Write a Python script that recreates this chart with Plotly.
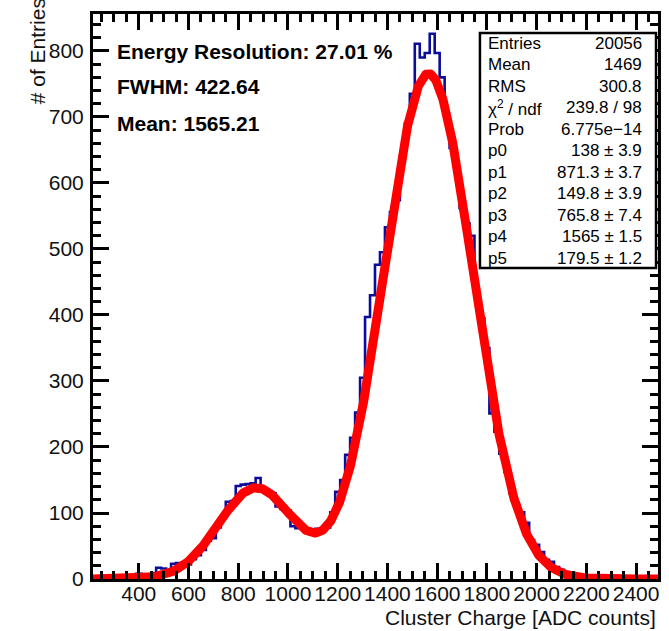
import numpy as np
import plotly.graph_objects as go

# ---- histogram contents: 20-count wide bins starting at 230 ADC counts ----
bin_start = 230
bin_width = 20
counts = [
    2, 1, 3, 2, 3, 4, 3, 4, 8, 5,
    6, 9, 17, 16, 11, 23, 24, 22, 22, 30,
    36, 44, 58, 62, 78, 95, 117, 118, 141, 143,
    144, 145, 153, 133, 131, 130, 110, 106, 104, 80,
    77, 77, 75, 73, 76, 76, 78, 101, 132, 150,
    188, 214, 252, 305, 397, 430, 476, 495, 533, 556,
    574, 640, 690, 735, 811, 790, 797, 826, 797, 760,
    700, 653, 620, 562, 539, 520, 433, 395, 350, 251,
    223, 190, 162, 130, 112, 101, 85, 59, 52, 41,
    29, 26, 18, 14, 10, 7, 5, 4, 3, 2,
    2, 1, 1, 1, 0, 1, 0, 0, 0, 0,
    0, 0,
]

# ---- double-Gaussian fit parameters p0..p5 ----
fit_params = [138.0, 871.3, 149.8, 765.8, 1565.0, 179.5]

# ---- statistics box ----
stat_names = ["Entries", "Mean", "RMS", "χ<sup>2</sup> / ndf", "Prob",
              "p0", "p1", "p2", "p3", "p4", "p5"]
stat_values = ["20056", "1469", "300.8", "239.8 / 98", "6.775e\u221214",
               "138 ± 3.9", "871.3 ± 3.7", "149.8 ± 3.9", "765.8 ± 7.4",
               "1565 ± 1.5", "179.5 ± 1.2"]

# ---- summary text ----
summary_lines = ["Energy Resolution: 27.01 %", "FWHM: 422.64", "Mean: 1565.21"]

# ---- axes ----
x_range = [216, 2488]
y_range = [0, 856]
x_major, x_minor = 200, 50
y_major, y_minor = 100, 20

W, H = 669, 631
L, R, T, B = 93, 8, 14, 52
PW, PH = W - L - R, H - T - B
FONT = "Liberation Sans, Arial, Helvetica, sans-serif"


def px(xp):
    return (xp - L) / PW


def py(yp):
    return (H - B - yp) / PH


edges = bin_start + bin_width * np.arange(len(counts) + 1)
step_y = [float(c) for c in counts] + [float(counts[-1])]

p0, p1, p2, p3, p4, p5 = fit_params
xf = np.linspace(x_range[0], x_range[1], 1200)
yf = p0 * np.exp(-0.5 * ((xf - p1) / p2) ** 2) + p3 * np.exp(-0.5 * ((xf - p4) / p5) ** 2)

fig = go.Figure()
fig.add_trace(go.Scatter(
    x=edges.tolist(), y=step_y, mode="lines", line_shape="hv",
    line=dict(color="#0c0c9a", width=2.6), hoverinfo="skip",
))
fig.add_trace(go.Scatter(
    x=xf.tolist(), y=yf.tolist(), mode="lines",
    line=dict(color="#ff0000", width=9), hoverinfo="skip",
))

# frame with inward major and minor ticks on all four sides
tick_font = dict(family=FONT, size=21, color="#111")
fig.update_xaxes(
    range=x_range, tick0=0, dtick=x_major,
    showgrid=False, zeroline=False,
    showline=True, linewidth=3, linecolor="black", mirror="allticks",
    ticks="inside", ticklen=16, tickwidth=3, tickcolor="black",
    minor=dict(dtick=x_minor, ticks="inside", ticklen=8, tickwidth=3,
               tickcolor="black", showgrid=False),
    tickfont=tick_font, ticklabelstandoff=-6, layer="above traces",
)
fig.update_yaxes(
    range=y_range, tick0=0, dtick=y_major,
    showgrid=False, zeroline=False,
    showline=True, linewidth=3, linecolor="black", mirror="allticks",
    ticks="inside", ticklen=16, tickwidth=3, tickcolor="black",
    minor=dict(dtick=y_minor, ticks="inside", ticklen=8, tickwidth=3,
               tickcolor="black", showgrid=False),
    tickfont=tick_font, ticklabelstandoff=2, layer="above traces",
)

# statistics box
fig.add_shape(
    type="rect", xref="paper", yref="paper",
    x0=px(482), x1=px(659), y0=py(268), y1=py(33),
    line=dict(color="black", width=2.5), fillcolor="white", layer="above",
)

annotations = []
# axis titles
annotations.append(dict(
    text="Cluster Charge [ADC counts]", xref="paper", yref="paper",
    x=px(661), y=py(617), xanchor="right", yanchor="middle", showarrow=False,
    font=dict(family=FONT, size=21, color="#111"),
))
annotations.append(dict(
    text="# of Entries", xref="paper", yref="paper",
    x=px(37), y=py(-4), xanchor="center", yanchor="top", textangle=-90,
    showarrow=False, font=dict(family=FONT, size=21, color="#111"),
))
# summary lines
for i, line in enumerate(summary_lines):
    annotations.append(dict(
        text="<b>" + line + "</b>", xref="paper", yref="paper",
        x=px(115), y=py(51 + 36 * i), xanchor="left", yanchor="middle",
        showarrow=False, font=dict(family=FONT, size=21, color="black"),
    ))
# statistics box rows
for i, (name, val) in enumerate(zip(stat_names, stat_values)):
    yy = py(43 + 21.55 * i)
    annotations.append(dict(
        text=name, xref="paper", yref="paper", x=px(488), y=yy,
        xanchor="left", yanchor="middle", showarrow=False,
        font=dict(family=FONT, size=17, color="black"),
    ))
    annotations.append(dict(
        text=val, xref="paper", yref="paper", x=px(647), y=yy,
        xanchor="right", yanchor="middle", showarrow=False,
        font=dict(family=FONT, size=17, color="black"),
    ))

fig.update_layout(
    width=W, height=H,
    margin=dict(l=L, r=R, t=T, b=B),
    paper_bgcolor="white", plot_bgcolor="white",
    showlegend=False,
    font=dict(family=FONT, color="black"),
    annotations=annotations,
)

fig.write_html("out.html", post_script="document.body.style.margin='0';")
